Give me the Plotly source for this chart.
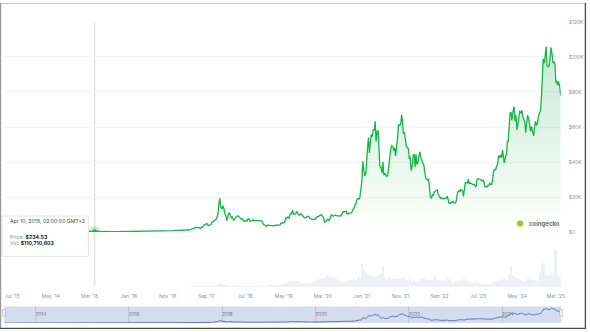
import pandas as pd
import plotly.graph_objects as go

W, H = 590, 332

# ---------------- data ----------------
# semi-monthly prices (1st & 15th), USD
p2013 = [116, 111, 129, 100, 88, 98, 105, 98, 139, 126, 125, 152, 204, 417, 955, 875]  # from May
p2014 = [770, 840, 830, 650, 560, 630, 480, 500, 450, 450, 630, 590, 640, 620, 590, 500, 480, 470, 380, 395, 325, 400, 380, 350]
p2015 = [315, 210, 225, 235, 260, 285, 245, 220, 235, 237, 225, 235, 258, 285, 280, 260, 228, 230, 238, 255, 325, 330, 362, 445]
p2016 = [432, 375, 370, 400, 435, 415, 417, 430, 450, 455, 536, 690, 676, 665, 607, 567, 572, 607, 615, 640, 730, 712, 754, 780]
# weekly prices (1st, 8th, 15th, 22nd of each month), USD
p2017 = [998, 910, 820, 925, 990, 1060, 1010, 1120, 1220, 1150, 1250, 1040, 1080, 1190, 1180, 1230,
         1420, 1700, 1720, 2090, 2400, 2700, 2450, 2700, 2500, 2550, 1930, 2800, 2720, 3400, 4200, 4080,
         4900, 4600, 3650, 3780, 4400, 4600, 5700, 6000, 6700, 7100, 7300, 8100, 10900, 16800, 19300, 14000]
p2018 = [13400, 15000, 13700, 10800, 9100, 6500, 10100, 10700, 10900, 9400, 8200, 8700, 6800, 7000, 8300, 8800,
         9100, 9300, 8700, 8000, 7500, 7600, 6500, 6100, 6400, 6700, 6350, 7400, 7600, 6300, 6300, 6400,
         7200, 6400, 6500, 6700, 6600, 6600, 6500, 6400, 6350, 6400, 5600, 4300, 4000, 3400, 3250, 3950]
p2019 = [3850, 4000, 3600, 3600, 3450, 3600, 3600, 3950, 3800, 3900, 4000, 4000, 4100, 5200, 5050, 5400,
         5350, 5750, 8000, 7900, 8600, 7800, 8800, 10700, 10600, 12600, 10200, 10300, 10400, 11900, 10300, 10100,
         9600, 10400, 10300, 9700, 8300, 8200, 8150, 8200, 9150, 8800, 8650, 7600, 7400, 7500, 7100, 7500]
p2020 = [7200, 8100, 8800, 8700, 9400, 9900, 9900, 9700, 8500, 8000, 5400, 5800, 6600, 7300, 6650, 7100,
         8800, 9900, 9300, 9100, 9500, 9700, 9400, 9300, 9200, 9250, 9200, 9380, 11300, 11700, 11800, 11600,
         11900, 10100, 10800, 10400, 10600, 10900, 11400, 12800, 13700, 15500, 16000, 18400, 19200, 18800, 19400, 23200]
p2021 = [29300, 40500, 36800, 32000, 33500, 46200, 48500, 54000, 45200, 50900, 55800, 54500, 58800, 58000, 63300, 51700,
         57700, 57800, 46400, 37500, 36700, 33600, 40200, 32500, 33500, 32900, 31800, 32300, 39900, 44600, 47000, 49300,
         48800, 46400, 48100, 43500, 48200, 53900, 61500, 61000, 61300, 66900, 63800, 56300, 57000, 50500, 48900, 48600]
p2022 = [47300, 41700, 43100, 35000, 38700, 44000, 44500, 37000, 44400, 38700, 39300, 42400, 45800, 42800, 40500, 39700,
         38500, 34100, 31300, 30300, 29800, 30100, 22500, 20000, 19300, 21600, 20800, 22900, 23300, 23900, 24300, 21400,
         20100, 19300, 19700, 19000, 19300, 19400, 19100, 19200, 20500, 17600, 16600, 16200, 17000, 16800, 17400, 16800]
p2023 = [16600, 17100, 20900, 22800, 23700, 22900, 24300, 23900, 23600, 20400, 24400, 28200, 28400, 28000, 30300, 27800,
         28000, 27700, 27200, 27100, 27200, 26500, 25600, 30000, 30600, 30300, 30300, 29900, 29200, 29800, 29200, 26000,
         25900, 25900, 26600, 26600, 27900, 27600, 26900, 30000, 35400, 35700, 35600, 37400, 38700, 43700, 42900, 43700]
p2024 = [42300, 46900, 42800, 39500, 43100, 44400, 51800, 51800, 61200, 68200, 68400, 63800, 69700, 71600, 63400, 66800,
         58300, 62300, 66200, 69100, 67700, 69600, 66000, 64100, 62800, 56700, 60800, 66700, 64600, 61700, 57500, 60400,
         57300, 54900, 60000, 63200, 60800, 62100, 66000, 67400, 69500, 76500, 91100, 98900, 96400, 101200, 106000, 95100]
p2025 = [94400, 95000, 100500, 105500, 100600, 96500, 97500, 96100, 86000, 86200, 84000, 86000, 83000, 78000]

# semi-monthly volumes, billions USD
v_early = [0.02, 0.02, 0.02, 0.02, 0.03, 0.03, 0.1, 0.15,
           0.1, 0.08, 0.05, 0.04, 0.03, 0.03, 0.02, 0.02, 0.02, 0.03, 0.03, 0.02,
           0.03, 0.02, 0.02, 0.02, 0.02, 0.02, 0.03, 0.03, 0.02, 0.03, 0.05, 0.05,
           0.05, 0.05, 0.05, 0.05, 0.05, 0.08, 0.1, 0.08, 0.06, 0.06, 0.08, 0.1]  # monthly May 2013 - Dec 2016
v2017 = [0.2, 0.2, 0.2, 0.2, 0.3, 0.3, 0.2, 0.3, 0.5, 0.8, 1.2, 1.5, 1.5, 1, 1.8, 2.5, 2.5, 1.8, 1.5, 2.5, 4, 5, 12, 16]
v2018 = [12, 15, 10, 8, 8, 7, 7, 6, 8, 7, 6, 6, 5, 5, 4, 5, 5, 4, 4, 4, 5, 6, 7, 6]
v2019 = [8, 9, 9, 10, 10, 10, 11, 12, 13, 18, 20, 25, 26, 28, 25, 28, 22, 20, 18, 20, 18, 17, 20, 22]
v2020 = [22, 30, 35, 34, 38, 40, 55, 45, 45, 40, 40, 40, 30, 28, 20, 22, 28, 25, 30, 30, 35, 33, 45, 40]
v2021 = [100, 80, 65, 60, 55, 55, 50, 45, 48, 52, 60, 90, 45, 35, 38, 30, 40, 35, 35, 38, 35, 40, 38, 30]
v2022 = [30, 40, 28, 30, 25, 28, 30, 35, 40, 35, 30, 28, 30, 30, 45, 30, 32, 30, 30, 28, 40, 35, 25, 20]
v2023 = [20, 28, 30, 28, 30, 40, 30, 25, 20, 18, 20, 25, 22, 18, 15, 14, 15, 12, 15, 14, 20, 25, 28, 30]
v2024 = [30, 35, 35, 30, 55, 90, 50, 40, 38, 35, 30, 25, 28, 25, 40, 35, 30, 28, 30, 28, 60, 100, 110, 55]
v2025 = [50, 55, 60, 45, 160, 55, 45]

x_tick_dates = ["2013-07-01", "2014-05-01", "2015-03-01", "2016-01-01", "2016-11-01", "2017-09-01", "2018-07-01",
                "2019-05-01", "2020-03-01", "2021-01-01", "2021-11-01", "2022-09-01", "2023-07-01", "2024-05-01", "2025-03-01"]
x_tick_labels = ["Jul '13", "May '14", "Mar '15", "Jan '16", "Nov '16", "Sep '17", "Jul '18",
                 "May '19", "Mar '20", "Jan '21", "Nov '21", "Sep '22", "Jul '23", "May '24", "Mar '25"]
y_tick_vals = [0, 20000, 40000, 60000, 80000, 100000, 120000]
y_tick_labels = ["$0", "$20K", "$40K", "$60K", "$80K", "$100K", "$120K"]
nav_tick_dates = ["2014-01-01", "2016-01-01", "2018-01-01", "2020-01-01", "2022-01-01", "2024-01-01"]
nav_tick_labels = ["2014", "2016", "2018", "2020", "2022", "2024"]

hover_date = "2015-04-10"
hover_price = 234.53
x_start, x_end = "2013-04-28", "2025-04-08"


# ---------------- build dates ----------------
def semi_dates(year, n, m0=1):
    return [pd.Timestamp(year, m, d) for m in range(m0, 13) for d in (1, 15)][:n]


def week_dates(year, n):
    return [pd.Timestamp(year, m, d) for m in range(1, 13) for d in (1, 8, 15, 22)][:n]


px_dates, px_vals = [], []
for yr, lst, m0 in [(2013, p2013, 5), (2014, p2014, 1), (2015, p2015, 1), (2016, p2016, 1)]:
    px_dates += semi_dates(yr, len(lst), m0)
    px_vals += lst
for yr, lst in [(2017, p2017), (2018, p2018), (2019, p2019), (2020, p2020), (2021, p2021),
                (2022, p2022), (2023, p2023), (2024, p2024), (2025, p2025)]:
    px_dates += week_dates(yr, len(lst))
    px_vals += lst

v_dates = [pd.Timestamp(y, m, 1) for y in range(2013, 2017) for m in range(1, 13)
           if not (y == 2013 and m < 5)][:len(v_early)]
v_vals = list(v_early)
for yr, lst in [(2017, v2017), (2018, v2018), (2019, v2019), (2020, v2020), (2021, v2021),
                (2022, v2022), (2023, v2023), (2024, v2024), (2025, v2025)]:
    v_dates += semi_dates(yr, len(lst))
    v_vals += lst


def PX(p):
    return p / W


def PY(p):
    return (H - p) / H


GREEN = "#18b34a"
GRAY_TXT = "#8c939f"
FONT = "Inter"

fig = go.Figure()

fig.add_trace(go.Bar(x=v_dates, y=v_vals, xaxis="x", yaxis="y2",
                     marker=dict(color="#eef0f4", line=dict(width=0)), hoverinfo="skip"))

fig.add_trace(go.Scatter(x=px_dates, y=px_vals, xaxis="x", yaxis="y", mode="lines",
                         line=dict(color=GREEN, width=1.3), fill="tozeroy",
                         fillgradient=dict(type="vertical",
                                           colorscale=[[0, "rgba(28,177,75,0.0)"], [1, "rgba(28,177,75,0.26)"]]),
                         hoverinfo="skip"))

fig.add_trace(go.Scatter(x=px_dates, y=px_vals, xaxis="x2", yaxis="y3", mode="lines",
                         line=dict(color="#5a7cc6", width=1), hoverinfo="skip"))

# hover point
fig.add_trace(go.Scatter(x=[hover_date], y=[hover_price], xaxis="x", yaxis="y", mode="markers",
                         marker=dict(size=11, color="rgba(28,177,75,0.25)"), hoverinfo="skip"))
fig.add_trace(go.Scatter(x=[hover_date], y=[hover_price], xaxis="x", yaxis="y", mode="markers",
                         marker=dict(size=5, color=GREEN), hoverinfo="skip"))

shapes = [
    # navigator mask
    dict(type="rect", xref="x2 domain", yref="y3 domain", x0=0, x1=1, y0=0, y1=1,
         fillcolor="#d4dcee", line=dict(width=0), layer="below"),
    # crosshair
    dict(type="line", xref="x", yref="paper", x0=hover_date, x1=hover_date, y0=PY(289), y1=PY(20),
         line=dict(color="#d9d9d9", width=1), layer="below"),
    # tooltip box
    dict(type="rect", xref="paper", yref="paper", x0=PX(2), x1=PX(89), y0=PY(258), y1=PY(217),
         fillcolor="white", line=dict(color="#e2e4e8", width=1), layer="above"),
    # navigator handles
    dict(type="rect", xref="paper", yref="paper", x0=PX(2.5), x1=PX(5.5), y0=PY(319), y1=PY(312),
         fillcolor="#f4f4f4", line=dict(color="#aaaaaa", width=0.6), layer="above"),
    dict(type="rect", xref="paper", yref="paper", x0=PX(563.5), x1=PX(566.5), y0=PY(319), y1=PY(312),
         fillcolor="#f4f4f4", line=dict(color="#aaaaaa", width=0.6), layer="above"),
    # logo circle
    dict(type="circle", xref="paper", yref="paper", x0=PX(520.3), x1=PX(527), y0=PY(228), y1=PY(221.2),
         fillcolor="#8cc83f", line=dict(color="#e8ee8c", width=1), layer="above"),
    # frame
    dict(type="line", xref="paper", yref="paper", x0=0, x1=1, y0=PY(0.5), y1=PY(0.5),
         line=dict(color="#c8c8c8", width=1)),
    dict(type="line", xref="paper", yref="paper", x0=PX(0.6), x1=PX(0.6), y0=0, y1=1,
         line=dict(color="#9a9a9a", width=1.2)),
    dict(type="line", xref="paper", yref="paper", x0=0, x1=1, y0=PY(331.4), y1=PY(331.4),
         line=dict(color="#4a4a4a", width=1.3)),
    dict(type="line", xref="paper", yref="paper", x0=PX(589.4), x1=PX(589.4), y0=0, y1=1,
         line=dict(color="#4a4a4a", width=1.3)),
]

annotations = [
    dict(xref="paper", yref="paper", x=PX(8.5), y=PY(222.5), xanchor="left", yanchor="middle",
         text="Apr 10, 2015, 02:00:00 GMT+2", showarrow=False, font=dict(size=5.2, color="#444", family=FONT)),
    dict(xref="paper", yref="paper", x=PX(8.5), y=PY(238.3), xanchor="left", yanchor="middle",
         text="<span style='color:#8a8f98'>Price:</span> <b>$234.53</b>", showarrow=False,
         font=dict(size=5.2, color="#222", family=FONT)),
    dict(xref="paper", yref="paper", x=PX(8.5), y=PY(244.5), xanchor="left", yanchor="middle",
         text="<span style='color:#8a8f98'>Vol:</span> <b>$110,710,603</b>", showarrow=False,
         font=dict(size=5.2, color="#222", family=FONT)),
    dict(xref="paper", yref="paper", x=PX(530.5), y=PY(224.6), xanchor="left", yanchor="middle",
         text="<b>coingecko</b>", showarrow=False, font=dict(size=6, color="#6b6f76", family=FONT)),
]

fig.update_layout(
    width=W, height=H, margin=dict(l=0, r=0, t=0, b=0),
    paper_bgcolor="white", plot_bgcolor="white", showlegend=False, bargap=0,
    font=dict(family=FONT, color=GRAY_TXT),
    xaxis=dict(domain=[PX(4), PX(564.5)], range=[x_start, x_end], anchor="y2", type="date",
               tickvals=x_tick_dates, ticktext=x_tick_labels, tickfont=dict(size=5, color=GRAY_TXT),
               showgrid=False, showline=False, zeroline=False, ticks="", ticklabelstandoff=5),
    yaxis=dict(domain=[PY(233.3), PY(19.3)], range=[0, 120000], anchor="x", side="right",
               tickvals=y_tick_vals, ticktext=y_tick_labels, tickfont=dict(size=5, color=GRAY_TXT),
               showgrid=True, gridcolor="#f1f2f4", gridwidth=1, zeroline=False, showline=False,
               ticks="", ticklabelstandoff=7),
    yaxis2=dict(domain=[PY(289), PY(240)], range=[0, 210], anchor="x", visible=False),
    xaxis2=dict(domain=[PX(4), PX(565)], range=[x_start, x_end], anchor="y3", type="date",
                tickvals=nav_tick_dates, ticktext=nav_tick_labels, ticklabelposition="inside right",
                tickfont=dict(size=4.6, color="#777"), showgrid=True, gridcolor="#bec7dc",
                showline=False, zeroline=False, ticks=""),
    yaxis3=dict(domain=[PY(326), PY(309)], range=[0, 117000], anchor="x2", visible=False),
    shapes=shapes, annotations=annotations,
)

fig.write_html("out.html")
